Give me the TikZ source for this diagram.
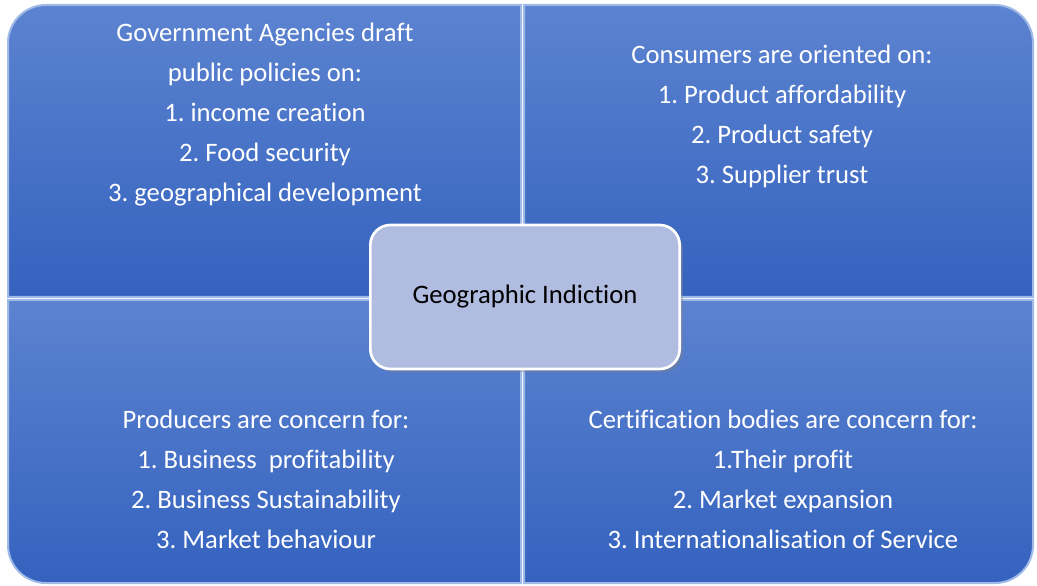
\documentclass[tikz,border=0pt]{standalone}
\usepackage{fontspec}
\setmainfont{Carlito}[RawFeature={-liga;-clig;-dlig}]
\usepackage{tikz}
\usetikzlibrary{shadows}
\frenchspacing

\definecolor{quadtop}{RGB}{92,131,208}
\definecolor{quadbot}{RGB}{52,98,190}
\definecolor{quadedge}{RGB}{160,186,232}
\definecolor{hubfill}{RGB}{176,188,224}

\tikzset{
  quad/.style={top color=quadtop, bottom color=quadbot, draw=quadedge, line width=1.5pt},
  quadtext/.style={text=white, align=center, font=\fontsize{20}{30}\selectfont},
  hub/.style={fill=hubfill, draw=white, line width=2pt, rounded corners=15pt,
    minimum width=232pt, minimum height=108pt, drop shadow={opacity=0.4},
    font=\fontsize{20}{30}\selectfont}
}

\begin{document}
\begin{tikzpicture}[x=0.75pt, y=0.75pt]

            \useasboundingbox (0,0) rectangle (1037,585);
            \fill[white] (0,0) rectangle (1037,585);

            % Government quadrant (top left)
            \path[quad] (8,288) -- (8,542) arc[start angle=180, end angle=90, radius=38] -- (521,580) -- (521,288) -- cycle;
            \node[quadtext] (gov) at (265,470) {Government Agencies draft\\public policies on:\\1. income creation\\2. Food security\\3. geographical development};

            % Consumer quadrant (top right)
            \path[quad] (524,580) -- (995,580) arc[start angle=90, end angle=0, radius=38] -- (1033,288) -- (524,288) -- cycle;
            \node[quadtext] (cons) at (782,469) {Consumers are oriented on:\\1. Product affordability\\2. Product safety\\3. Supplier trust};

            % Producer quadrant (bottom left)
            \path[quad] (521,285) -- (8,285) -- (8,40) arc[start angle=180, end angle=270, radius=38] -- (521,2) -- cycle;
            \node[quadtext] (prod) at (266,106) {Producers are concern for:\\1. Business\ \ profitability\\2. Business Sustainability\\3. Market behaviour};

            % Certification quadrant (bottom right)
            \path[quad] (524,285) -- (1033,285) -- (1033,40) arc[start angle=0, end angle=-90, radius=38] -- (524,2) -- cycle;
            \node[quadtext] (cert) at (783,106) {Certification bodies are concern for:\\1.Their profit\\2. Market expansion\\3. Internationalisation of Service};

            % Centre box
            \node[hub] (gi) at (525,288) {Geographic Indiction};

        \end{tikzpicture}
\end{document}
